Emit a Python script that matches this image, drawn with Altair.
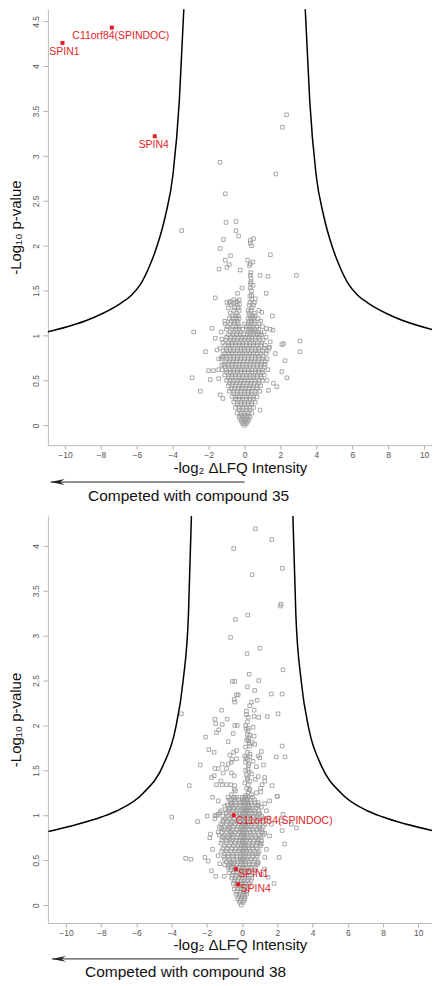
import altair as alt
import pandas as pd

# ---------------- Panel 1 (compound 35) ----------------
curve1_absx = [3.38, 3.63, 3.98, 4.4, 4.9, 5.3, 5.8, 6.3, 6.9, 8.3, 11.0]
curve1_y = [4.64, 3.62, 2.80, 2.34, 1.98, 1.77, 1.57, 1.45, 1.36, 1.21, 1.04]

p1_scatter = [
    (2.34, 3.46), (2.11, 3.32), (-1.37, 2.93), (1.74, 2.80), (-1.07, 2.58), (-3.50, 2.17),
    (-1.03, 2.26), (-0.48, 2.27), (-0.48, 2.17), (-0.33, 2.11), (-1.17, 2.07),
    (0.32, 2.06), (0.50, 2.08), (0.32, 2.03), (0.39, 2.00), (-1.35, 1.97), (-0.78, 1.89), (1.44, 1.90),
    (-1.07, 1.84), (-0.85, 1.79), (-1.42, 1.74), (-0.98, 1.76), (-0.24, 1.73),
    (0.17, 1.84), (0.32, 1.80), (0.47, 1.82), (0.28, 1.78),
    (0.32, 1.67), (0.87, 1.67), (1.30, 1.66), (2.89, 1.67), (0.36, 1.64),
    (0.36, 1.60), (0.47, 1.56), (0.32, 1.53), (-0.14, 1.53), (-0.39, 1.47), (-1.63, 1.42), (1.21, 1.47),
    (0.40, 1.45), (0.60, 1.41), (0.35, 1.70), (0.33, 1.58), (0.38, 1.50), (0.30, 1.44),
    (-0.98, 1.37), (-0.79, 1.38), (-0.61, 1.36), (-0.42, 1.38), (-0.28, 1.35),
    (0.96, 1.26), (1.55, 1.22), (-1.07, 1.13), (-1.81, 1.08), (-2.83, 1.04),
    (1.21, 1.08), (1.43, 1.07), (1.58, 1.06), (0.78, 1.04), (0.87, 1.01),
    (-1.63, 0.97), (-1.26, 0.96), (2.17, 0.91), (3.09, 0.94), (1.43, 0.93), (1.39, 0.87),
    (-2.18, 0.82), (-1.53, 0.84), (3.09, 0.82), (1.71, 0.80), (2.26, 0.72), (-1.44, 0.74),
    (-1.26, 0.76), (-1.26, 0.67), (-2.00, 0.61), (-1.72, 0.61), (-1.44, 0.62), (2.08, 0.60),
    (-2.92, 0.53), (-1.91, 0.51), (-1.44, 0.52), (2.36, 0.53), (1.61, 0.47), (1.80, 0.43),
    (-2.46, 0.38), (1.33, 0.39), (-1.35, 0.34), (-1.20, 0.30), (0.87, 0.17), (2.08, 0.90),
]

p1_core = [
    (1.40, [-0.6, -0.3, 0.4]),
    (1.37, [-0.85, -0.5, 0.3, 0.55]),
    (1.34, [-0.75, -0.4, 0.25, 0.5]),
    (1.31, [-0.9, -0.55, -0.35, 0.42]),
    (1.28, [-0.6, -0.3, 0.2, 0.35, 0.8]),
    (1.25, [-0.8, -0.45, 0.25, 0.55]),
    (1.22, [-0.7, -0.5, -0.35, 0.3, 0.45, 0.6]),
    (1.19, [-0.85, -0.65, -0.45, -0.3, 0.2, 0.35, 0.5, 0.75]),
    (1.16, [-1.1, -0.75, -0.55, -0.4, 0.25, 0.4, 0.55, 0.9]),
    (1.13, [-0.8, -0.55, -0.35, 0.0, 0.2, 0.35, 0.55, 0.8]),
    (1.10, [-0.95, -0.65, -0.45, -0.3, 0.1, 0.3, 0.45, 0.7, 1.0]),
    (1.07, [-1.0, -0.7, -0.5, -0.3, -0.1, 0.1, 0.25, 0.4, 0.55, 0.8]),
    (1.04, [-1.3, -0.8, -0.6, -0.4, -0.2, 0.2, 0.35, 0.5, 0.65, 1.1]),
    (1.01, [-0.9, -0.65, -0.45, -0.25, -0.05, 0.15, 0.3, 0.5, 0.7, 0.95]),
    (0.98, [-1.0, -0.75, -0.55, -0.35, -0.15, 0.05, 0.25, 0.4, 0.6, 0.8, 1.2]),
    (0.95, [-1.05, -0.8, -0.6, -0.4, -0.2, 0.0, 0.2, 0.4, 0.6, 0.85, 1.05]),
    (0.92, [-1.2, -0.9, -0.7, -0.5, -0.3, -0.1, 0.1, 0.3, 0.5, 0.7, 0.95]),
    (0.89, [-1.1, -0.9, -0.7, -0.5, -0.3, -0.1, 0.1, 0.3, 0.5, 0.7, 0.9, 1.15]),
    (0.86, [-1.35, -1.0, -0.8, -0.6, -0.4, -0.2, 0.0, 0.2, 0.4, 0.6, 0.8, 1.1, 1.35]),
    (0.83, [-1.2, -1.0, -0.8, -0.6, -0.4, -0.2, 0.0, 0.2, 0.4, 0.6, 0.8, 1.0, 1.25]),
    (0.80, [-1.1, -0.9, -0.7, -0.5, -0.3, -0.1, 0.1, 0.3, 0.5, 0.7, 0.9, 1.2]),
    (0.77, [-1.2, -1.0, -0.8, -0.6, -0.4, -0.2, 0.0, 0.2, 0.4, 0.6, 0.8, 1.05]),
    (0.74, [-1.3, -1.0, -0.8, -0.6, -0.4, -0.2, 0.0, 0.2, 0.4, 0.6, 0.8, 1.0, 1.25]),
    (0.71, [-1.05, -0.85, -0.65, -0.45, -0.25, -0.05, 0.15, 0.35, 0.55, 0.75, 0.95, 1.15]),
    (0.68, [-1.15, -0.9, -0.7, -0.5, -0.3, -0.1, 0.1, 0.3, 0.5, 0.7, 0.9, 1.15]),
    (0.65, [-1.1, -0.9, -0.7, -0.5, -0.3, -0.1, 0.1, 0.3, 0.5, 0.7, 0.9, 1.1]),
    (0.62, [-1.25, -1.0, -0.8, -0.6, -0.4, -0.2, 0.0, 0.2, 0.4, 0.6, 0.8, 1.0, 1.3]),
    (0.59, [-1.0, -0.8, -0.6, -0.4, -0.2, 0.0, 0.2, 0.4, 0.6, 0.8, 1.0]),
    (0.56, [-1.1, -0.9, -0.7, -0.5, -0.3, -0.1, 0.1, 0.3, 0.5, 0.7, 0.9, 1.1]),
    (0.53, [-0.9, -0.7, -0.5, -0.3, -0.1, 0.1, 0.3, 0.5, 0.7, 0.95]),
    (0.50, [-1.0, -0.8, -0.6, -0.4, -0.2, 0.0, 0.2, 0.4, 0.6, 0.8, 1.0, 1.25]),
    (0.47, [-0.85, -0.65, -0.45, -0.25, -0.05, 0.15, 0.35, 0.55, 0.8]),
    (0.44, [-0.9, -0.7, -0.5, -0.3, -0.1, 0.1, 0.3, 0.5, 0.7, 0.9]),
    (0.41, [-0.75, -0.55, -0.35, -0.15, 0.05, 0.25, 0.45, 0.7]),
    (0.38, [-0.85, -0.6, -0.4, -0.2, 0.0, 0.2, 0.4, 0.6, 0.85]),
    (0.35, [-0.6, -0.4, -0.2, 0.0, 0.2, 0.4, 0.6]),
    (0.32, [-0.7, -0.5, -0.3, -0.1, 0.1, 0.3, 0.5, 0.7]),
    (0.29, [-0.5, -0.3, -0.1, 0.1, 0.3, 0.5]),
    (0.26, [-0.6, -0.4, -0.2, 0.0, 0.2, 0.4, 0.6]),
    (0.23, [-0.4, -0.2, 0.0, 0.2, 0.4]),
    (0.20, [-0.5, -0.3, -0.1, 0.1, 0.3, 0.5]),
    (0.17, [-0.3, -0.1, 0.1, 0.3]),
    (0.14, [-0.4, -0.2, 0.0, 0.2, 0.4]),
    (0.11, [-0.2, 0.0, 0.2]),
    (0.09, [-0.3, -0.1, 0.1, 0.3]),
    (0.07, [-0.2, 0.0, 0.2]),
    (0.05, [-0.2, 0.0, 0.2]),
    (0.035, [-0.1, 0.1]),
    (0.02, [-0.1, 0.1]),
    (0.00, [0.0]),
]

p1_hit_names = ["SPIN1", "C11orf84(SPINDOC)", "SPIN4"]
p1_hit_x = [-10.14, -7.39, -5.00]
p1_hit_y = [4.26, 4.43, 3.22]

# ---------------- Panel 2 (compound 38) ----------------
curve2_absx = [2.88, 3.05, 3.35, 3.8, 4.5, 5.65, 7.1, 8.0, 11.0]
curve2_y = [4.34, 3.23, 2.50, 1.95, 1.55, 1.24, 1.05, 0.98, 0.82]

p2_scatter = [
    (0.75, 4.19), (1.68, 4.07), (-0.48, 3.97), (2.28, 3.75), (0.57, 3.68), (2.17, 3.33), (2.21, 3.35),
    (0.32, 3.23), (-0.38, 3.18), (-0.66, 2.98), (1.00, 2.86), (0.28, 2.80), (2.32, 2.62), (0.40, 2.57),
    (-0.55, 2.49), (-0.42, 2.49), (0.94, 2.50), (0.30, 2.43), (0.71, 2.39), (1.66, 2.35), (2.27, 2.35),
    (-0.32, 2.34), (-0.23, 2.34), (-0.45, 2.29), (-0.42, 2.26), (0.53, 2.26), (0.85, 2.28), (0.43, 2.22),
    (-3.45, 2.13), (-1.17, 2.17), (0.24, 2.16), (0.68, 2.17), (2.04, 2.13), (1.43, 2.10), (0.94, 2.09),
    (0.34, 2.09), (0.68, 2.10), (-1.55, 2.07), (-0.85, 2.07), (-1.50, 2.02), (-1.13, 2.01), (-0.42, 2.00),
    (-0.28, 2.00), (0.20, 2.00), (0.34, 1.97), (0.62, 1.98), (-1.33, 1.95), (-1.46, 1.92), (-0.51, 1.91),
    (0.34, 1.94), (0.43, 1.89), (0.68, 1.88), (0.37, 1.86), (-2.08, 1.87), (-0.79, 1.82), (0.34, 1.83),
    (0.57, 1.81), (0.43, 1.77), (0.71, 1.79), (-1.89, 1.73), (-1.59, 1.70), (-0.48, 1.70), (-0.31, 1.72),
    (2.27, 1.77), (1.09, 1.71), (0.91, 1.66), (1.00, 1.64), (1.94, 1.65), (2.44, 1.65), (-0.70, 1.67),
    (-0.57, 1.62), (-0.32, 1.63), (0.15, 1.66), (0.30, 1.62), (0.43, 1.65), (0.19, 1.59), (0.37, 1.57),
    (0.62, 1.60), (-2.38, 1.56), (-1.13, 1.57), (-0.79, 1.57), (-0.61, 1.59), (1.21, 1.56), (0.81, 1.54),
    (-1.55, 1.52), (-1.36, 1.52), (-1.08, 1.47), (-0.89, 1.52), (-0.61, 1.47), (-0.45, 1.44), (0.34, 1.51),
    (0.53, 1.46), (0.30, 1.42), (0.43, 1.38), (0.75, 1.40), (0.91, 1.43), (1.28, 1.42), (1.13, 1.34),
    (1.05, 1.30), (-1.74, 1.42), (-1.59, 1.44), (-1.21, 1.38), (-1.46, 1.34), (-1.13, 1.34), (-0.89, 1.34),
    (-0.65, 1.34), (-0.42, 1.33), (-3.00, 1.33), (-0.45, 1.29), (-0.38, 1.27), (-0.61, 1.23), (0.34, 1.34),
    (0.43, 1.29), (0.34, 1.25), (0.53, 1.23), (0.81, 1.25), (1.05, 1.26), (1.98, 1.21), (-1.68, 1.20),
    (-1.36, 1.16), (-0.74, 1.17), (-0.65, 1.13), (-0.42, 1.20), (1.28, 1.13), (1.56, 1.16), (1.09, 1.09),
    (0.91, 1.11), (-0.99, 1.10), (-1.17, 1.05), (-1.36, 1.01), (-1.46, 0.99), (-0.89, 1.03), (-0.70, 1.07),
    (-0.42, 1.08), (2.32, 1.01), (-4.00, 0.98), (-2.53, 0.93), (-1.98, 0.99), (-1.55, 1.00), (-1.55, 0.96),
    (-1.27, 1.03), (-1.08, 0.94), (-0.79, 0.96), (-0.61, 0.92), (-1.17, 0.86), (-0.70, 0.86), (-1.80, 0.79),
    (-1.84, 0.75), (-1.36, 0.81), (-1.12, 0.76), (-0.70, 0.73), (-0.61, 0.79), (-1.68, 0.62), (-1.17, 0.60),
    (-0.99, 0.57), (-1.36, 0.55), (-3.21, 0.52), (-2.91, 0.51), (-2.12, 0.53), (-1.93, 0.49), (-1.74, 0.38),
    (-1.50, 0.32), (-1.02, 0.32), (-1.27, 0.46), (-0.99, 0.45), (-0.79, 0.44), (-0.61, 0.47),
    (1.28, 1.38), (1.70, 1.33), (2.00, 1.21), (2.23, 0.94), (2.79, 0.90), (3.08, 0.86), (2.27, 0.83),
    (2.41, 0.68), (2.10, 0.53), (1.81, 0.24), (1.28, 0.40), (1.47, 0.31), (1.09, 0.34),
    (0.91, 1.14), (1.38, 1.05), (0.91, 1.01), (1.47, 0.97), (1.66, 0.90), (1.00, 0.86), (1.28, 0.80),
    (1.56, 0.77), (0.91, 0.73), (1.09, 0.68), (1.38, 0.62), (0.91, 0.57), (1.28, 0.53), (0.91, 0.47),
    (0.25, 2.12), (0.30, 2.04), (0.22, 1.96), (0.30, 1.90), (0.25, 1.84), (0.40, 1.80), (0.20, 1.76),
    (0.30, 1.70), (0.45, 1.68), (0.22, 1.64), (0.35, 1.55), (0.20, 1.50), (0.40, 1.48), (0.25, 1.45),
    (0.30, 1.40), (0.15, 1.36), (0.25, 1.30), (0.40, 1.28), (0.20, 1.22), (0.30, 1.18), (0.15, 1.14),
    (0.35, 1.12), (0.20, 1.06), (0.45, 1.05),
]

p2_core = [
    (1.20, [-0.8, -0.5, -0.3, 0.0, 0.1, 0.2, 0.35, 0.6]),
    (1.17, [-0.65, -0.4, -0.2, 0.0, 0.1, 0.25, 0.45, 0.7]),
    (1.14, [-0.6, -0.35, -0.1, 0.05, 0.15, 0.3, 0.5, 0.75]),
    (1.11, [-0.85, -0.6, -0.35, -0.1, 0.05, 0.2, 0.35, 0.55, 0.85]),
    (1.08, [-0.75, -0.5, -0.25, 0.0, 0.1, 0.25, 0.4, 0.6, 0.8]),
    (1.05, [-0.8, -0.55, -0.3, -0.1, 0.05, 0.15, 0.3, 0.5, 0.7, 0.95]),
    (1.02, [-0.9, -0.6, -0.35, -0.15, 0.0, 0.1, 0.2, 0.35, 0.55, 0.75, 1.0]),
    (0.99, [-1.1, -0.8, -0.55, -0.3, -0.1, 0.05, 0.15, 0.3, 0.45, 0.65, 0.85, 1.1]),
    (0.96, [-1.0, -0.7, -0.45, -0.2, -0.05, 0.05, 0.15, 0.3, 0.5, 0.7, 0.9, 1.15]),
    (0.93, [-1.1, -0.85, -0.55, -0.3, -0.1, 0.05, 0.15, 0.3, 0.45, 0.65, 0.9, 1.2]),
    (0.90, [-1.2, -0.9, -0.65, -0.4, -0.2, 0.0, 0.1, 0.2, 0.35, 0.55, 0.75, 1.0, 1.3]),
    (0.87, [-1.3, -1.0, -0.75, -0.5, -0.25, -0.05, 0.05, 0.15, 0.3, 0.5, 0.7, 0.95, 1.2]),
    (0.84, [-1.05, -0.8, -0.55, -0.3, -0.1, 0.0, 0.1, 0.2, 0.4, 0.6, 0.85, 1.1]),
    (0.81, [-1.15, -0.9, -0.65, -0.4, -0.15, 0.0, 0.1, 0.25, 0.45, 0.65, 0.9, 1.15]),
    (0.78, [-1.3, -1.0, -0.75, -0.5, -0.25, -0.05, 0.05, 0.15, 0.3, 0.5, 0.7, 0.95, 1.2]),
    (0.75, [-1.05, -0.8, -0.55, -0.3, -0.1, 0.05, 0.15, 0.35, 0.55, 0.8, 1.05]),
    (0.72, [-1.15, -0.9, -0.6, -0.35, -0.15, 0.0, 0.1, 0.25, 0.45, 0.65, 0.9, 1.1]),
    (0.69, [-1.2, -0.9, -0.65, -0.4, -0.2, 0.0, 0.1, 0.2, 0.4, 0.6, 0.85, 1.0]),
    (0.66, [-1.0, -0.75, -0.5, -0.25, -0.05, 0.05, 0.15, 0.35, 0.55, 0.8, 1.05]),
    (0.63, [-1.1, -0.85, -0.6, -0.35, -0.1, 0.05, 0.2, 0.35, 0.6, 0.85]),
    (0.60, [-0.9, -0.65, -0.4, -0.2, 0.0, 0.1, 0.25, 0.45, 0.7, 0.95]),
    (0.57, [-0.8, -0.55, -0.3, -0.1, 0.05, 0.2, 0.4, 0.55, 0.8]),
    (0.54, [-1.05, -0.8, -0.55, -0.3, -0.1, 0.05, 0.15, 0.35, 0.6, 0.85]),
    (0.51, [-1.0, -0.75, -0.5, -0.3, -0.1, 0.0, 0.1, 0.3, 0.5, 0.75]),
    (0.48, [-0.9, -0.7, -0.45, -0.25, -0.05, 0.05, 0.2, 0.4, 0.65, 0.9]),
    (0.45, [-0.7, -0.5, -0.3, -0.1, 0.05, 0.2, 0.4, 0.6, 0.85]),
    (0.42, [-0.8, -0.6, -0.4, -0.2, 0.0, 0.1, 0.3, 0.5, 0.75]),
    (0.39, [-0.65, -0.45, -0.25, -0.05, 0.1, 0.25, 0.45, 0.7]),
    (0.36, [-0.75, -0.5, -0.3, -0.1, 0.05, 0.2, 0.4, 0.65]),
    (0.33, [-0.55, -0.35, -0.15, 0.05, 0.25, 0.45]),
    (0.30, [-0.6, -0.4, -0.2, 0.0, 0.15, 0.35, 0.55]),
    (0.27, [-0.45, -0.25, -0.05, 0.1, 0.3, 0.5]),
    (0.24, [-0.5, -0.3, -0.1, 0.05, 0.2, 0.4]),
    (0.21, [-0.35, -0.15, 0.0, 0.15, 0.35]),
    (0.18, [-0.45, -0.25, -0.05, 0.1, 0.3]),
    (0.15, [-0.3, -0.1, 0.1, 0.25]),
    (0.12, [-0.35, -0.15, 0.05, 0.25]),
    (0.095, [-0.2, 0.0, 0.15]),
    (0.07, [-0.25, -0.05, 0.15]),
    (0.05, [-0.1, 0.1]),
    (0.03, [-0.15, 0.05]),
    (0.00, [-0.05]),
]

p2_hit_names = ["C11orf84(SPINDOC)", "SPIN1", "SPIN4"]
p2_hit_x = [-0.48, -0.36, -0.23]
p2_hit_y = [1.00, 0.40, 0.23]

x_ticks = [-10, -8, -6, -4, -2, 0, 2, 4, 6, 8, 10]
y1_ticks = [0, 0.5, 1, 1.5, 2, 2.5, 3, 3.5, 4, 4.5]
y2_ticks = [0, 0.5, 1, 1.5, 2, 2.5, 3, 3.5, 4]

arrow1_x = [-10.8, 0.0]
arrow2_x = [-10.8, -0.2]
X_TITLE = "-log\u2082 \u0394LFQ Intensity"
Y_TITLE = "-Log\u2081\u2080 p-value"

FONT = "Liberation Sans"
GRAY = "#9c9c9c"
RED = "#e41e26"


def curve_df(absx, ys):
    rows = []
    for a, v in zip(absx, ys):
        rows.append({"x": -a, "y": v, "side": "L"})
        rows.append({"x": a, "y": v, "side": "R"})
    return pd.DataFrame(rows)


def points_df(scatter, core):
    rows = [{"x": a, "y": b} for a, b in scatter]
    for yv, xs in core:
        rows += [{"x": a, "y": yv} for a in xs]
    return pd.DataFrame(rows)


def panel(curve, pts, hits, label_style, xdom, ydom, yticks, w, h, caption, arrow, cap_x, arrow_off, cap_off):
    xs = alt.Scale(domain=xdom, nice=False, zero=False)
    ys = alt.Scale(domain=ydom, nice=False, zero=False)
    xax = alt.Axis(values=x_ticks, title=X_TITLE, format="d")
    yax = alt.Axis(values=yticks, title=Y_TITLE, format="~g")
    X = alt.X("x:Q", scale=xs, axis=xax)
    Y = alt.Y("y:Q", scale=ys, axis=yax)

    lines = alt.Chart(curve).mark_line(
        color="black", strokeWidth=1.5, interpolate="monotone", clip=True
    ).encode(x=X, y=Y, detail="side:N", order="x:Q")

    gray = alt.Chart(pts).mark_point(
        shape="square", filled=False, size=13, strokeWidth=0.85, color=GRAY, opacity=1, clip=True
    ).encode(x=X, y=Y)

    red = alt.Chart(hits).mark_square(size=16, color=RED, opacity=1).encode(x=X, y=Y)

    layers = [lines, gray, red]
    for name, (align, dx, dy) in label_style.items():
        layers.append(
            alt.Chart(hits).transform_filter(alt.datum.name == name).mark_text(
                font=FONT, fontSize=10.5, color=RED, align=align, baseline="middle", dx=dx, dy=dy
            ).encode(x=X, y=Y, text="name:N")
        )

    arrow_df = pd.DataFrame({"x": [arrow[0]], "x2": [arrow[1]]})
    rule = alt.Chart(arrow_df).mark_rule(color="#222222", strokeWidth=1).encode(
        x=X, x2="x2:Q", y=alt.value(h + arrow_off)
    )
    head = alt.Chart(arrow_df).mark_point(
        shape="M0,0 L2,-0.42 L1.35,0 L2,0.42 Z", size=196, filled=True, color="#222222", opacity=1
    ).encode(x=X, y=alt.value(h + arrow_off))
    cap = alt.Chart(pd.DataFrame({"t": [caption]})).mark_text(
        font=FONT, fontSize=15.5, color="#111111", align="center", baseline="middle"
    ).encode(x=alt.value(cap_x), y=alt.value(h + cap_off), text="t:N")
    layers += [rule, head, cap]
    return alt.layer(*layers).properties(width=w, height=h)


c1 = curve_df(curve1_absx, curve1_y)
pts1 = points_df(p1_scatter, p1_core)
hits1 = pd.DataFrame({"name": p1_hit_names, "x": p1_hit_x, "y": p1_hit_y})
style1 = {
    "SPIN1": ("center", 2, 9),
    "C11orf84(SPINDOC)": ("center", 9, 8.5),
    "SPIN4": ("center", -1, 8.5),
}
panel1 = panel(c1, pts1, hits1, style1, [-10.95, 10.44], [-0.22, 4.636], y1_ticks,
               385, 437, "Competed with compound 35", arrow1_x, 141, 37, 51)

c2 = curve_df(curve2_absx, curve2_y)
pts2 = points_df(p2_scatter, p2_core)
hits2 = pd.DataFrame({"name": p2_hit_names, "x": p2_hit_x, "y": p2_hit_y})
style2 = {
    "C11orf84(SPINDOC)": ("left", 2, 5.5),
    "SPIN1": ("left", 2.5, 5),
    "SPIN4": ("left", 2.5, 5),
}
panel2 = panel(c2, pts2, hits2, style2, [-11.03, 10.78], [-0.2, 4.333], y2_ticks,
               385, 408, "Competed with compound 38", arrow2_x, 138, 36, 49)

chart = alt.vconcat(panel1, panel2, spacing=11).properties(
    padding=0
).configure_view(stroke=None).configure_axis(
    domainColor="#bdbdbd", domainWidth=1, tickColor="#9a9a9a", tickWidth=0.8,
    labelColor="#555555", labelFont=FONT, labelFontSize=8.5,
    titleFont=FONT, titleFontSize=15, titleFontWeight="normal", titleColor="#111111",
    grid=False,
).configure_axisX(
    tickSize=4, labelPadding=1.5, titlePadding=1,
).configure_axisY(
    tickSize=5, labelPadding=2, labelAngle=270, labelAlign="center", labelBaseline="bottom",
    titlePadding=8,
)

chart.save("out.html", embed_options={"renderer": "svg", "actions": False})
